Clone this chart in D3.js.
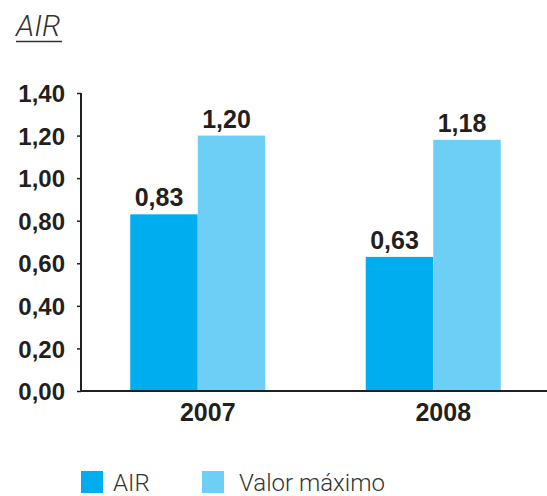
<!DOCTYPE html>
<html>
<head>
<meta charset="utf-8">
<script src="https://cdn.jsdelivr.net/npm/d3@7"></script>
<style>
  body { margin: 0; background: #fff; }
  svg { display: block; }
</style>
</head>
<body>
<div id="chart"></div>
<script>
const years = ['2007', '2008']
const series = ['AIR', 'Valor máximo']
const airValues = [0.83, 0.63]
const maxValues = [1.20, 1.18]
const yTicks = [0, 0.2, 0.4, 0.6, 0.8, 1.0, 1.2, 1.4]

const width = 547
const height = 496
const colors = { 'AIR': '#00aeef', 'Valor máximo': '#6dcff6' }
const ink = '#231f20'
const boldFont = '"Liberation Sans", Arial, sans-serif'
const lightFont = 'Roboto, "Liberation Sans", sans-serif'

const locale = d3.formatLocale({ decimal: ',', thousands: '.', grouping: [3], currency: ['', '€'] })
const fmt = locale.format('.2f')

const svg = d3.select('#chart')
  .append('svg')
  .attr('width', width)
  .attr('height', height)

// Title
svg.append('text')
  .attr('x', 16)
  .attr('y', 36)
  .attr('fill', '#333')
  .attr('font-family', lightFont)
  .attr('font-weight', 300)
  .attr('font-style', 'italic')
  .attr('font-size', '30px')
  .text('AIR')
svg.append('line')
  .attr('x1', 16).attr('x2', 62)
  .attr('y1', 41.5).attr('y2', 41.5)
  .attr('stroke', '#333')
  .attr('stroke-width', 1.5)

// Scales
const y = d3.scaleLinear().domain([0, 1.4]).range([391, 93])
const x0 = d3.scaleBand().domain(years).range([80, 551])
const x1 = d3.scaleBand().domain(series).range([0, x0.bandwidth()])
  .paddingInner(0).paddingOuter(0.744)

const rows = years.map((yr, i) => ({
  year: yr,
  values: [
    { key: 'AIR', value: airValues[i] },
    { key: 'Valor máximo', value: maxValues[i] }
  ]
}))

// Bars
const groups = svg.append('g')
  .selectAll('g')
  .data(rows)
  .join('g')
  .attr('transform', d => `translate(${x0(d.year)},0)`)

groups.selectAll('rect')
  .data(d => d.values)
  .join('rect')
  .attr('x', d => x1(d.key))
  .attr('y', d => y(d.value))
  .attr('width', x1.bandwidth())
  .attr('height', d => y(0) - y(d.value))
  .attr('fill', d => colors[d.key])

// Value labels
groups.selectAll('text.val')
  .data(d => d.values)
  .join('text')
  .attr('class', 'val')
  .attr('x', d => x1(d.key) + x1.bandwidth() / 2 - 5)
  .attr('y', d => y(d.value) - 8)
  .attr('text-anchor', 'middle')
  .attr('fill', ink)
  .attr('font-family', boldFont)
  .attr('font-weight', 'bold')
  .attr('font-size', '25px')
  .text(d => fmt(d.value))

// Y axis
const yAxis = svg.append('g')
  .attr('transform', 'translate(81,0)')
  .call(d3.axisLeft(y).tickValues(yTicks).tickSize(4).tickPadding(12).tickFormat(fmt))
yAxis.select('.domain').attr('stroke', ink).attr('stroke-width', 2)
  .attr('d', `M0,${y(1.4)}V${y(0)}`)
yAxis.selectAll('.tick line').attr('stroke', ink).attr('stroke-width', 1.5)
yAxis.selectAll('.tick text')
  .attr('fill', ink)
  .attr('font-family', boldFont)
  .attr('font-weight', 'bold')
  .attr('font-size', '24px')
  .attr('dy', '0.36em')

// X axis baseline
svg.append('line')
  .attr('x1', 80).attr('x2', width)
  .attr('y1', y(0)).attr('y2', y(0))
  .attr('stroke', ink)
  .attr('stroke-width', 2)

// Category labels
svg.append('g')
  .selectAll('text')
  .data(years)
  .join('text')
  .attr('x', d => x0(d) + x0.bandwidth() / 2 + 10)
  .attr('y', 421)
  .attr('text-anchor', 'middle')
  .attr('fill', ink)
  .attr('font-family', boldFont)
  .attr('font-weight', 'bold')
  .attr('font-size', '25px')
  .text(d => d)

// Legend
const legendX = [81, 202]
const legend = svg.append('g')
  .selectAll('g')
  .data(series)
  .join('g')
  .attr('transform', (d, i) => `translate(${legendX[i]},471)`)
legend.append('rect')
  .attr('width', 22)
  .attr('height', 22)
  .attr('fill', d => colors[d])
legend.append('text')
  .attr('x', (d, i) => i === 0 ? 32 : 37)
  .attr('y', 20)
  .attr('fill', '#333')
  .attr('font-family', lightFont)
  .attr('font-weight', 300)
  .attr('font-size', '24px')
  .text(d => d)
</script>
</body>
</html>
